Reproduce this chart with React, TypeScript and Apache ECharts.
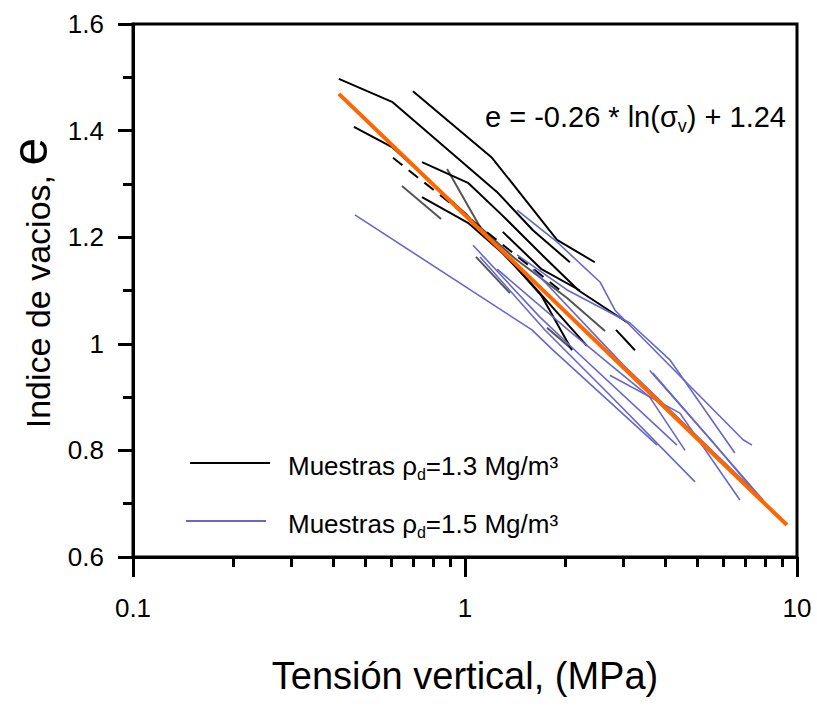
import React, { useEffect, useRef } from "react";
import * as echarts from "echarts";

// ---- data (σv in MPa, e = void ratio) ----
const X_MAJOR_LABELS = [0.1, 1, 10];
const X_MINOR_TICKS = [0.2, 0.3, 0.4, 0.5, 0.6, 0.7, 0.8, 0.9, 2, 3, 4, 5, 6, 7, 8, 9];
const Y_TICKS = [0.6, 0.8, 1, 1.2, 1.4, 1.6];

// samples ρd = 1.3 Mg/m3 (black)
const blk1 = [[0.417, 1.497], [0.603, 1.454], [1.248, 1.285], [1.602, 1.213], [2.07, 1.153]];
const blk2 = [[0.697, 1.474], [1.206, 1.349], [1.893, 1.195], [2.46, 1.153]];
const blk3 = [[0.463, 1.407], [0.603, 1.369], [1.0, 1.245], [1.6, 1.11], [2.33, 0.996]];
const blk4 = [[0.742, 1.341], [1.021, 1.302], [1.3, 1.24], [1.75, 1.16], [2.2, 1.1], [3.1, 1.039]];
const blk5 = [[0.742, 1.275], [1.021, 1.227], [1.338, 1.163], [1.7, 1.09], [2.1, 0.988]];
const blk6 = [[2.85, 1.026], [3.25, 0.988]];
const blk7 = [[1.3, 1.21], [1.7, 1.14], [2.22, 1.1]];
const blkDash = [[0.607, 1.349], [1.93, 1.101]];
// darker grey samples
const gry1 = [[0.883, 1.328], [1.11, 1.219], [1.414, 1.16], [2.03, 1.086], [2.64, 1.024]];
const gry2 = [[0.646, 1.296], [0.847, 1.234]];
const gry3 = [[1.079, 1.163], [1.366, 1.095]];
const gry4 = [[1.766, 1.03], [2.1, 0.99]];

// samples ρd = 1.5 Mg/m3 (blue)
const blu1 = [[0.466, 1.242], [1.591, 1.026], [1.841, 0.988], [3.79, 0.81]];
const blu2 = [[1.435, 1.251], [1.893, 1.191], [2.55, 1.116], [2.83, 1.063], [6.88, 0.82], [7.32, 0.81]];
const blu3 = [[1.057, 1.185], [1.682, 1.05], [2.22, 0.979], [4.35, 0.81]];
const blu4 = [[1.11, 1.163], [1.741, 1.026], [2.73, 0.904], [4.93, 0.741]];
const blu5 = [[1.435, 1.167], [2.03, 1.101], [3.14, 1.039], [4.14, 0.97], [6.5, 0.795]];
const blu6 = [[2.73, 0.941], [4.44, 0.87], [6.73, 0.707]];
const blu7 = [[3.68, 0.945], [7.9, 0.707]];
const blu8 = [[3.6, 0.95], [5.5, 0.82], [7.7, 0.712]];
const blu9 = [[1.6, 1.14], [3.0, 0.96], [7.74, 0.713]];
const blu10 = [[1.25, 1.14], [2.1, 1.02], [3.6, 0.9], [4.6, 0.8]];

// fit: e = -0.26 * ln(σv) + 1.24
const fitLine = [[0.417, 1.469], [9.33, 0.66]];

const BLACK_SET = [blk1, blk2, blk3, blk4, blk5, blk6, blk7];
const GREY_SET = [gry1, gry2, gry3, gry4];
const BLUE_SET = [blu1, blu2, blu3, blu4, blu5, blu6, blu7, blu8, blu9, blu10];

const FONT = "'Liberation Sans', Arial, sans-serif";
const BLUE = "#6666cc";

function lineSeries(data: number[][], color: string, width: number, dashed = false) {
  return {
    type: "line",
    data,
    symbol: "none",
    silent: true,
    lineStyle: { color, width, type: dashed ? [12, 8] : "solid" },
  };
}

function subRich(size: number, sub: number, lh: number) {
  return {
    a: { fontSize: size, fontFamily: FONT, color: "#000", lineHeight: lh, verticalAlign: "middle" },
    s: { fontSize: sub, fontFamily: FONT, color: "#000", lineHeight: sub, verticalAlign: "bottom" },
  };
}

export default function App() {
  const ref = useRef<HTMLDivElement>(null);

  useEffect(() => {
    if (!ref.current) return;
    const chart = echarts.init(ref.current, undefined, { renderer: "svg" });
    const series: any[] = [];
    GREY_SET.forEach((d) => series.push(lineSeries(d, "#555555", 2)));
    BLACK_SET.forEach((d) => series.push(lineSeries(d, "#000000", 2)));
    series.push(lineSeries(blkDash, "#000000", 2, true));
    BLUE_SET.forEach((d) => series.push(lineSeries(d, BLUE, 1.6)));
    series.push(lineSeries(fitLine, "#ff6600", 4));

    chart.setOption({
      animation: false,
      backgroundColor: "#fff",
      grid: {
        left: 133,
        right: 20,
        top: 24,
        bottom: 152,
        show: true,
        borderColor: "#000",
        borderWidth: 3,
        containLabel: false,
      },
      xAxis: [
        {
          type: "log",
          logBase: 10,
          min: X_MAJOR_LABELS[0],
          max: X_MAJOR_LABELS[X_MAJOR_LABELS.length - 1],
          axisLine: { show: true, lineStyle: { color: "#000", width: 3 } },
          axisTick: { show: true, inside: false, length: 20, lineStyle: { color: "#000", width: 3 } },
          axisLabel: {
            margin: 38,
            fontSize: 26,
            fontFamily: FONT,
            color: "#000",
            formatter: (v: number) => String(+v.toPrecision(3)),
          },
          splitLine: { show: false },
          minorTick: { show: false },
        },
        {
          type: "log",
          logBase: 10,
          position: "bottom",
          min: X_MAJOR_LABELS[0],
          max: X_MAJOR_LABELS[X_MAJOR_LABELS.length - 1],
          axisLine: { show: false },
          axisTick: {
            show: true,
            inside: false,
            length: 10,
            customValues: X_MINOR_TICKS,
            lineStyle: { color: "#000", width: 3 },
          },
          axisLabel: { show: false },
          splitLine: { show: false },
        },
      ],
      yAxis: {
        type: "value",
        min: Y_TICKS[0],
        max: Y_TICKS[Y_TICKS.length - 1],
        interval: 0.2,
        axisLine: { show: true, lineStyle: { color: "#000", width: 3 } },
        axisTick: { show: true, inside: false, length: 15, lineStyle: { color: "#000", width: 3 } },
        minorTick: { show: true, splitNumber: 2, length: 10, lineStyle: { color: "#000", width: 3 } },
        axisLabel: {
          margin: 29,
          fontSize: 26,
          fontFamily: FONT,
          color: "#000",
          formatter: (v: number) => String(+v.toFixed(1)),
        },
        splitLine: { show: false },
      },
      series,
      graphic: [
        {
          type: "text",
          x: 485,
          y: 117,
          style: {
            text: "{a|e = -0.26 * ln(σ}{s|v}{a|) + 1.24}",
            rich: subRich(29, 18, 35),
            verticalAlign: "middle",
            align: "left",
          },
        },
        {
          type: "line",
          shape: { x1: 190, y1: 463, x2: 270, y2: 463 },
          style: { stroke: "#000", lineWidth: 2 },
        },
        {
          type: "text",
          x: 288,
          y: 466,
          style: {
            text: "{a|Muestras ρ}{s|d}{a|=1.3 Mg/m³}",
            rich: subRich(26, 16, 32),
            verticalAlign: "middle",
            align: "left",
          },
        },
        {
          type: "line",
          shape: { x1: 186, y1: 521, x2: 266, y2: 521 },
          style: { stroke: BLUE, lineWidth: 2 },
        },
        {
          type: "text",
          x: 288,
          y: 524,
          style: {
            text: "{a|Muestras ρ}{s|d}{a|=1.5 Mg/m³}",
            rich: subRich(26, 16, 32),
            verticalAlign: "middle",
            align: "left",
          },
        },
        {
          type: "text",
          x: 30,
          y: 283,
          rotation: Math.PI / 2,
          style: {
            text: "{a|Indice de vacios, }{b|e}",
            rich: {
              a: { fontSize: 34, fontFamily: FONT, color: "#000", verticalAlign: "bottom", lineHeight: 50 },
              b: { fontSize: 50, fontFamily: FONT, color: "#000", verticalAlign: "bottom", lineHeight: 50 },
            },
            align: "center",
            verticalAlign: "middle",
          },
        },
        {
          type: "text",
          x: 465,
          y: 676,
          style: {
            text: "Tensión vertical, (MPa)",
            font: `38px ${FONT}`,
            fill: "#000",
            align: "center",
            verticalAlign: "middle",
          },
        },
      ],
    });
    return () => chart.dispose();
  }, []);

  return (
    <div
      ref={ref}
      style={{ position: "fixed", left: 0, top: 0, width: 817, height: 709, background: "#fff" }}
    />
  );
}
